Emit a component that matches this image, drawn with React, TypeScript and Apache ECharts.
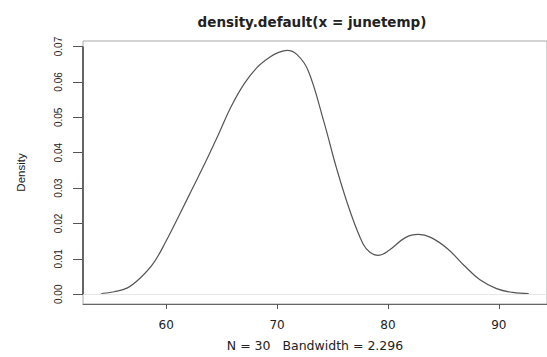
import React, { useEffect, useRef } from "react";
import * as echarts from "echarts";

const tempX = [54.14, 55.3, 56.5, 57.66, 58.83, 60.0, 61.18, 62.35, 63.52, 64.7, 65.87, 67.04, 68.2, 69.4, 70.2, 70.9, 71.8, 72.8, 74.2, 75.4, 76.6, 77.76, 78.4, 79.1, 80.1, 81.57, 82.75, 83.9, 85.4, 86.85, 88.3, 89.8, 91.25, 92.7];
const densityY = [0.0002, 0.0007, 0.0018, 0.0046, 0.0087, 0.0151, 0.0224, 0.0298, 0.0372, 0.0451, 0.0531, 0.0595, 0.0641, 0.0671, 0.0684, 0.0689, 0.0677, 0.0632, 0.049, 0.0352, 0.0233, 0.0142, 0.0118, 0.011, 0.0124, 0.016, 0.0169, 0.016, 0.0128, 0.0082, 0.0041, 0.0016, 0.0005, 0.0002];
const xTicks = [60, 70, 80, 90];
const yTicks = [0, 0.01, 0.02, 0.03, 0.04, 0.05, 0.06, 0.07];
const X_MIN = 52.49;
const X_MAX = 94.35;
const Y_MIN = -0.00276;
const Y_MAX = 0.07156;
const titleText = "density.default(x = junetemp)";
const xLabelText = "N = 30   Bandwidth = 2.296";
const yLabelText = "Density";

export default function App() {
  const ref = useRef<HTMLDivElement>(null);
  useEffect(() => {
    const chart = echarts.init(ref.current!, null, { renderer: "svg" });
    const data = tempX.map((x, i) => [x, densityY[i]]);
    chart.setOption({
      animation: false,
      backgroundColor: "#ffffff",
      title: {
        text: titleText,
        left: 307,
        top: 10,
        textAlign: "center",
        textStyle: { fontFamily: "DejaVu Sans", fontWeight: "bold", fontSize: 13.5, color: "#222" },
      },
      grid: {
        left: 83,
        top: 41,
        right: -11,
        bottom: 45,
        show: true,
        borderColor: "#a8a8a8",
        borderWidth: 1,
        backgroundColor: "transparent",
      },
      xAxis: {
        type: "value",
        min: X_MIN,
        max: X_MAX,
        name: xLabelText,
        nameLocation: "middle",
        nameGap: 35,
        nameTextStyle: { fontFamily: "DejaVu Sans", fontSize: 12.5, color: "#222" },
        axisLine: { show: true, onZero: false, lineStyle: { color: "#666", width: 1 } },
        axisTick: { show: true, length: 5, customValues: xTicks, lineStyle: { color: "#555" } },
        axisLabel: {
          customValues: xTicks,
          margin: 15,
          fontFamily: "DejaVu Sans",
          fontSize: 12,
          color: "#222",
        },
        splitLine: { show: false },
      },
      yAxis: {
        type: "value",
        min: Y_MIN,
        max: Y_MAX,
        name: yLabelText,
        nameLocation: "middle",
        nameGap: 56,
        nameRotate: 90,
        nameTextStyle: { fontFamily: "Liberation Sans", fontSize: 11.5, color: "#222" },
        axisLine: { show: false },
        axisTick: { show: true, length: 10, customValues: yTicks, lineStyle: { color: "#555" } },
        axisLabel: {
          customValues: yTicks,
          rotate: 90,
          margin: 20,
          fontFamily: "Liberation Sans",
          fontSize: 10,
          color: "#222",
          formatter: (v: number) => v.toFixed(2),
        },
        splitLine: { show: false },
      },
      series: [
        {
          type: "line",
          data,
          smooth: 0.4,
          showSymbol: false,
          symbol: "none",
          lineStyle: { color: "#555", width: 1.2 },
          silent: true,
          markLine: {
            silent: true,
            symbol: "none",
            label: { show: false },
            data: [
              [
                { coord: [X_MIN, 0], lineStyle: { color: "#e8e8e8", width: 1, type: "solid" } },
                { coord: [X_MAX, 0] },
              ],
              [
                { coord: [X_MIN, yTicks[0]], lineStyle: { color: "#666", width: 2, type: "solid" } },
                { coord: [X_MIN, yTicks[yTicks.length - 1]] },
              ],
            ],
          },
        },
      ],
    });
    return () => chart.dispose();
  }, []);
  return (
    <div
      ref={ref}
      style={{ position: "absolute", left: 0, top: 0, width: 547, height: 357, background: "#fff" }}
    />
  );
}
